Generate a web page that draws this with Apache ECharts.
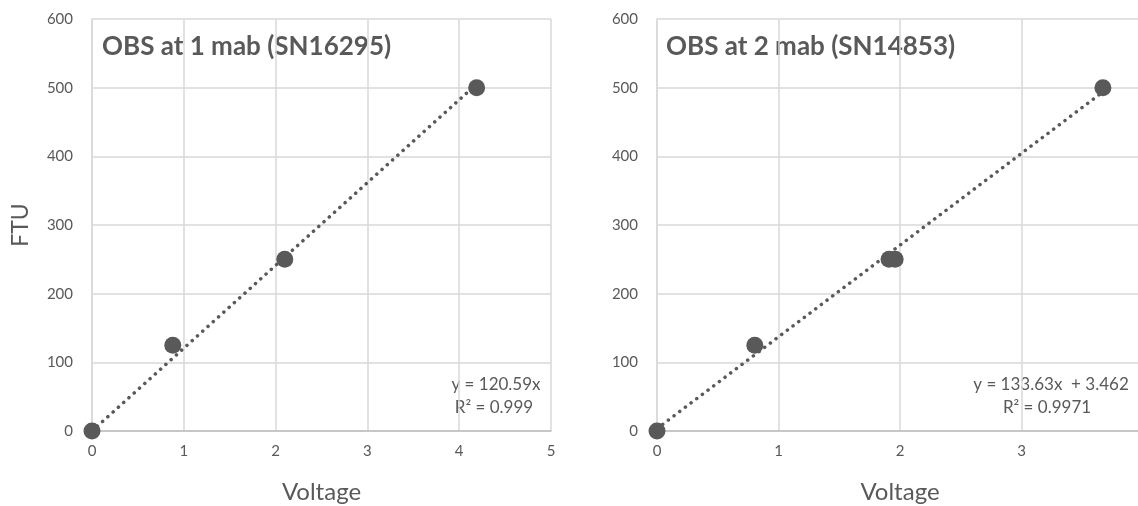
<!DOCTYPE html>
<html lang="en">
<head>
  <meta charset="UTF-8">
  <title>OBS calibration</title>
  <script src="https://cdn.jsdelivr.net/npm/echarts@6/dist/echarts.min.js"></script>
  <style>
    html, body { margin: 0; padding: 0; background: #fff; }
  </style>
</head>
<body>
  <div id="main" style="width: 1138px;height:506px;"></div>
  <script>
    // 左图 SN16295
    var volt1 = [0, 0.88, 2.1, 4.19];
    var ftu1 = [0, 125, 250, 500];
    var fit1 = { slope: 120.59, intercept: 0 };
    // 右图 SN14853
    var volt2 = [0, 0.805, 1.91, 1.96, 3.67];
    var ftu2 = [0, 125, 250, 250, 500];
    var fit2 = { slope: 133.63, intercept: 3.462 };
    var titles = ['OBS at 1 mab (SN16295)', 'OBS at 2 mab (SN14853)'];
    var eqText1 = ['y = 120.59x', 'R\u00b2 = 0.999'];
    var eqText2 = ['y = 133.63x  + 3.462', 'R\u00b2 = 0.9971'];

    var grey = '#595959';
    var font = 'Lato, "Open Sans", sans-serif';

    function pts(xs, ys) {
      return xs.map(function (x, i) { return [x, ys[i]]; });
    }
    // 趋势线只画到数据范围
    function trend(xs, fit) {
      var lo = Math.min.apply(null, xs), hi = Math.max.apply(null, xs);
      return [lo, hi].map(function (x) { return [x, fit.slope * x + fit.intercept]; });
    }

    function xAx(idx, max) {
      return {
        type: 'value', gridIndex: idx, min: 0, max: max, interval: 1,
        name: 'Voltage', nameLocation: 'middle', nameGap: 49,
        nameTextStyle: { color: grey, fontSize: 24, fontFamily: font },
        axisLine: { onZero: false, lineStyle: { color: '#bfbfbf', width: 1.5 } },
        axisTick: { show: false },
        axisLabel: { color: grey, fontSize: 15, fontFamily: font, margin: 13 },
        splitLine: { show: true, lineStyle: { color: '#d9d9d9', width: 1.5 } }
      };
    }
    function yAx(idx, name) {
      return {
        type: 'value', gridIndex: idx, min: 0, max: 600, interval: 100,
        name: name, nameLocation: 'middle', nameGap: 60,
        nameTextStyle: { color: grey, fontSize: 23, fontFamily: font },
        axisLine: { show: true, lineStyle: { color: '#d9d9d9', width: 1.5 } },
        axisTick: { show: false },
        axisLabel: { color: grey, fontSize: 15, fontFamily: font, margin: 19 },
        splitLine: { show: true, lineStyle: { color: '#d9d9d9', width: 1.5 } }
      };
    }
    function dots(idx, data) {
      return {
        type: 'scatter', xAxisIndex: idx, yAxisIndex: idx, data: data,
        symbol: 'circle', symbolSize: 17, z: 3,
        itemStyle: { color: grey, opacity: 1 }
      };
    }
    function trendLine(idx, data) {
      return {
        type: 'line', xAxisIndex: idx, yAxisIndex: idx, data: data,
        showSymbol: false, z: 2, silent: true,
        lineStyle: { color: grey, width: 3.5, type: [0.1, 7], cap: 'round' }
      };
    }
    function txt(x, y, s, size, bold, align) {
      return {
        type: 'text', x: x, y: y,
        style: {
          text: s, fill: grey, font: (bold ? 'bold ' : '') + size + 'px ' + font,
          textAlign: align || 'left', textVerticalAlign: 'middle'
        }
      };
    }

    var myChart = echarts.init(document.getElementById('main'));
    var option = {
      animation: false,
      grid: [
        { left: 92, width: 459, top: 19, bottom: 75, outerBoundsMode: 'none' },
        { left: 657, width: 486, top: 19, bottom: 75, outerBoundsMode: 'none' }
      ],
      xAxis: [xAx(0, 5), xAx(1, 4)],
      yAxis: [yAx(0, 'FTU'), yAx(1, '')],
      series: [
        trendLine(0, trend(volt1, fit1)),
        dots(0, pts(volt1, ftu1)),
        trendLine(1, trend(volt2, fit2)),
        dots(1, pts(volt2, ftu2))
      ],
      graphic: [
        txt(102, 47, titles[0], 26, true),
        txt(666, 47, titles[1], 26, true),
        txt(496, 385, eqText1[0], 17, false, 'center'),
        txt(494, 408, eqText1[1], 17, false, 'center'),
        txt(1051, 385, eqText2[0], 17, false, 'center'),
        txt(1047, 408, eqText2[1], 17, false, 'center')
      ]
    };
    myChart.setOption(option);
  </script>
</body>
</html>
